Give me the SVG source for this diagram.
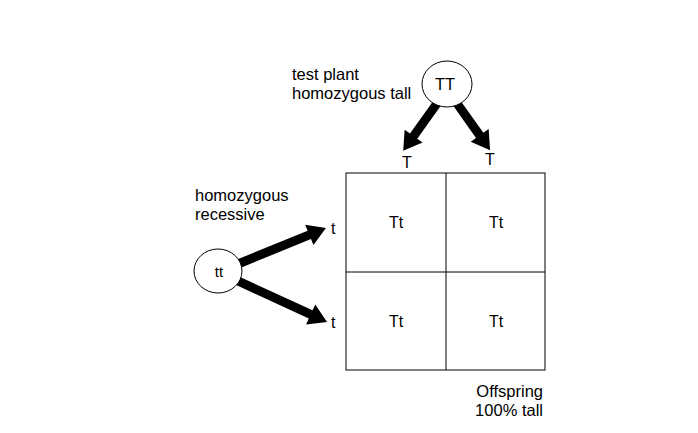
<svg xmlns="http://www.w3.org/2000/svg" width="698" height="433" viewBox="0 0 698 433">
<style>
text{font-family:"Liberation Sans",Arial,sans-serif;font-size:16.5px;fill:#000}
.c{text-anchor:middle}
.r{text-anchor:end}
.cell{font-size:16px}
.g{font-size:16px}
.node{fill:#fff;stroke:#000;stroke-width:1}
.grid{fill:none;stroke:#000;stroke-width:1}
.arr{fill:#000;stroke:none}
</style>
<rect width="698" height="433" fill="#fff"/>
<g id="connectors">
<path class="arr" transform="translate(438,102) rotate(125.5)" d="M0,-4.5 L42,-4.5 L42,-11 L60,0 L42,11 L42,4.5 L0,4.5 z"/>
<path class="arr" transform="translate(456,102) rotate(54.7)" d="M0,-4.5 L41,-4.5 L41,-11 L59,0 L41,11 L41,4.5 L0,4.5 z"/>
<path class="arr" transform="translate(238,264) rotate(-22.2)" d="M0,-4.5 L77,-4.5 L77,-11 L95,0 L77,11 L77,4.5 L0,4.5 z"/>
<path class="arr" transform="translate(238,281) rotate(24.7)" d="M0,-4.5 L80,-4.5 L80,-11 L98,0 L80,11 L80,4.5 L0,4.5 z"/>
</g>
<g id="tt-parent">
<ellipse class="node" cx="447" cy="84" rx="25" ry="23"/>
<text class="c" x="445" y="90" style="font-size:16.5px">TT</text>
<text x="292" y="80">test plant</text>
<text x="292" y="99">homozygous tall</text>
</g>
<g id="rec-parent">
<ellipse class="node" cx="218" cy="271" rx="24" ry="22"/>
<text class="c" x="219" y="277" style="font-size:15px">tt</text>
<text x="195" y="201">homozygous</text>
<text x="195" y="220">recessive</text>
</g>
<g id="gametes">
<text class="c g" x="407" y="168">T</text>
<text class="c g" x="490" y="165">T</text>
<text class="g" x="331" y="234">t</text>
<text class="g" x="331" y="328">t</text>
</g>
<g id="punnett">
<rect class="grid" x="346" y="173" width="199" height="197"/>
<line class="grid" x1="446" y1="173" x2="446" y2="370"/>
<line class="grid" x1="346" y1="272" x2="545" y2="272"/>
<text class="c cell" x="396" y="228">Tt</text>
<text class="c cell" x="496" y="228">Tt</text>
<text class="c cell" x="396" y="327">Tt</text>
<text class="c cell" x="496" y="327">Tt</text>
</g>
<g id="result">
<text class="r" x="543" y="397">Offspring</text>
<text class="r" x="543" y="416">100% tall</text>
</g>
</svg>
